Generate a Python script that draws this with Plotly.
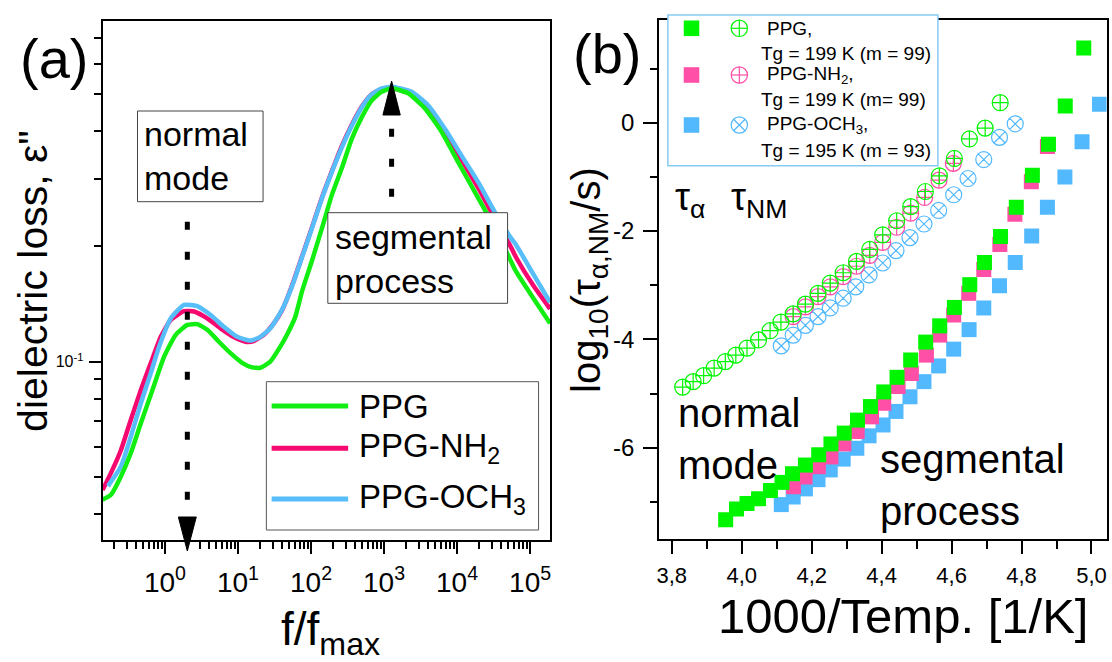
import numpy as np
import plotly.graph_objects as go

W, H = 1112, 662
FONT = "Liberation Sans, Arial, sans-serif"

# ---------------- panel (a): dielectric loss vs. reduced frequency ----------------
logf_ppg = [-0.853, -0.739, -0.603, -0.467, -0.330, -0.171, -0.011, 0.147, 0.307, 0.443,
            0.580, 0.739, 0.898, 1.057, 1.194, 1.307, 1.443, 1.580, 1.671, 1.785,
            1.876, 2.012, 2.149, 2.285, 2.421, 2.558, 2.694, 2.830, 2.960, 3.104,
            3.331, 3.558, 3.786, 4.013, 4.241, 4.468, 4.696, 4.809, 5.040, 5.273]
eps_ppg = [0.0436, 0.0449, 0.0501, 0.0577, 0.0690, 0.0843, 0.1030, 0.1175, 0.1247, 0.1253,
           0.1211, 0.1127, 0.1052, 0.0993, 0.0966, 0.0964, 0.1000, 0.1094, 0.1175, 0.1309,
           0.1524, 0.1832, 0.2228, 0.2723, 0.3199, 0.3819, 0.4345, 0.4808, 0.5058, 0.5176,
           0.5023, 0.4592, 0.3990, 0.3327, 0.2780, 0.2323, 0.1901, 0.1718, 0.1469, 0.1259]

logf_nh2 = [-0.853, -0.739, -0.603, -0.467, -0.330, -0.194, -0.057, 0.079, 0.262, 0.398,
            0.580, 0.761, 0.944, 1.102, 1.216, 1.353, 1.490, 1.603, 1.739, 1.876,
            2.012, 2.149, 2.285, 2.421, 2.558, 2.694, 2.830, 2.960, 3.104, 3.376,
            3.603, 3.831, 4.059, 4.286, 4.513, 4.741, 4.809, 5.040, 5.273]
eps_nh2 = [0.0462, 0.0512, 0.0587, 0.0705, 0.0843, 0.0991, 0.1161, 0.1285, 0.1355, 0.1352,
           0.1297, 0.1222, 0.1159, 0.1127, 0.1132, 0.1175, 0.1259, 0.1361, 0.1578, 0.1879,
           0.2239, 0.2679, 0.3141, 0.3656, 0.4159, 0.4634, 0.4989, 0.5152, 0.5188, 0.5000,
           0.4592, 0.3981, 0.3373, 0.2851, 0.2371, 0.1986, 0.1871, 0.1585, 0.1374]

logf_och3 = [-0.780, -0.603, -0.467, -0.330, -0.194, -0.080, 0.079, 0.262, 0.443, 0.625,
             0.807, 0.989, 1.171, 1.307, 1.443, 1.603, 1.739, 1.876, 2.012, 2.149,
             2.285, 2.421, 2.558, 2.694, 2.830, 2.960, 3.104, 3.376, 3.603, 3.831,
             4.059, 4.286, 4.513, 4.741, 4.809, 5.040, 5.273]
eps_och3 = [0.0473, 0.0532, 0.0637, 0.0778, 0.0933, 0.1094, 0.1297, 0.1406, 0.1396, 0.1324,
            0.1233, 0.1161, 0.1135, 0.1161, 0.1222, 0.1365, 0.1570, 0.1871, 0.2228, 0.2667,
            0.3126, 0.3622, 0.4130, 0.4613, 0.4989, 0.5164, 0.5224, 0.5070, 0.4677, 0.4064,
            0.3459, 0.2951, 0.2466, 0.2099, 0.2018, 0.1698, 0.1429]

# ---------------- panel (b): relaxation map ----------------
# segmental relaxation times (filled squares)
invT_seg_ppg = [3.954, 3.985, 4.015, 4.048, 4.082, 4.115, 4.145, 4.182, 4.220, 4.255,
                4.293, 4.331, 4.368, 4.406, 4.444, 4.483, 4.526, 4.566, 4.608, 4.652,
                4.694, 4.740, 4.785, 4.831, 4.877, 4.925, 4.978]
logtau_seg_ppg = [-7.33, -7.13, -7.03, -6.94, -6.79, -6.64, -6.48, -6.32, -6.13, -5.93,
                  -5.73, -5.49, -5.24, -4.97, -4.70, -4.38, -4.05, -3.75, -3.41, -2.99,
                  -2.58, -2.10, -1.56, -0.97, -0.40, 0.31, 1.38]
invT_seg_nh2 = [4.148, 4.181, 4.219, 4.255, 4.292, 4.330, 4.371, 4.406, 4.447, 4.485,
                4.528, 4.566, 4.606, 4.649, 4.692, 4.738, 4.781, 4.828, 4.874]
logtau_seg_nh2 = [-6.72, -6.54, -6.35, -6.17, -5.93, -5.70, -5.43, -5.18, -4.87, -4.63,
                  -4.29, -3.92, -3.55, -3.15, -2.71, -2.25, -1.69, -1.09, -0.44]
invT_seg_och3 = [4.113, 4.147, 4.182, 4.218, 4.253, 4.290, 4.329, 4.364, 4.404, 4.441,
                 4.481, 4.521, 4.563, 4.606, 4.650, 4.692, 4.737, 4.782, 4.829, 4.874,
                 4.924, 4.973, 5.023]
logtau_seg_och3 = [-7.05, -6.91, -6.76, -6.59, -6.41, -6.21, -6.01, -5.78, -5.58, -5.33,
                   -5.06, -4.78, -4.49, -4.18, -3.82, -3.42, -3.01, -2.58, -2.09, -1.56,
                   -1.00, -0.35, 0.34]
# normal mode relaxation times (open circles)
invT_nm_ppg = [3.831, 3.861, 3.891, 3.921, 3.953, 3.983, 4.015, 4.048, 4.081, 4.112,
               4.147, 4.182, 4.218, 4.253, 4.290, 4.328, 4.366, 4.403, 4.443, 4.483,
               4.525, 4.565, 4.608, 4.651, 4.696, 4.739]
logtau_nm_ppg = [-4.88, -4.78, -4.67, -4.53, -4.41, -4.29, -4.16, -4.01, -3.84, -3.68,
                 -3.53, -3.35, -3.15, -2.96, -2.77, -2.56, -2.34, -2.07, -1.81, -1.55,
                 -1.27, -0.98, -0.66, -0.30, -0.10, 0.37]
invT_nm_nh2 = [4.147, 4.182, 4.218, 4.253, 4.290, 4.328, 4.366, 4.403, 4.443, 4.483,
               4.523, 4.564, 4.605]
logtau_nm_nh2 = [-3.58, -3.40, -3.21, -3.03, -2.84, -2.65, -2.45, -2.21, -1.93, -1.67,
                 -1.38, -1.06, -0.75]
invT_nm_och3 = [4.113, 4.147, 4.182, 4.218, 4.253, 4.290, 4.326, 4.364, 4.403, 4.441,
                4.481, 4.521, 4.563, 4.606, 4.647, 4.692, 4.737, 4.782]
logtau_nm_och3 = [-4.12, -3.92, -3.74, -3.58, -3.42, -3.24, -3.03, -2.81, -2.59, -2.36,
                  -2.12, -1.87, -1.62, -1.33, -1.03, -0.68, -0.27, -0.02]

# tick labels
xa_tickvals = [1, 10, 100, 1000, 10000, 100000]
xa_ticktext = ["10<sup>0</sup>", "10<sup>1</sup>", "10<sup>2</sup>",
               "10<sup>3</sup>", "10<sup>4</sup>", "10<sup>5</sup>"]
ya_tickvals = [0.1]
ya_ticktext = ["10<sup>-1</sup>"]
xb_tickvals = [3.8, 4.0, 4.2, 4.4, 4.6, 4.8, 5.0]
xb_ticktext = ["3,8", "4,0", "4,2", "4,4", "4,6", "4,8", "5,0"]
yb_tickvals = [-6, -4, -2, 0]
yb_ticktext = ["-6", "-4", "-2", "0"]

# colours
C_LINE = {"PPG": "#12EE12", "NH2": "#F5086F", "OCH3": "#58BEFA"}
C_MARK = {"PPG": "#00F500", "NH2": "#FF4FA7", "OCH3": "#52B9FF"}

fig = go.Figure()

# panel (a) curves
for key, lf, ep in [("NH2", logf_nh2, eps_nh2), ("OCH3", logf_och3, eps_och3),
                    ("PPG", logf_ppg, eps_ppg)]:
    fig.add_trace(go.Scatter(
        x=10 ** np.array(lf), y=ep, mode="lines", xaxis="x", yaxis="y",
        line=dict(color=C_LINE[key], width=4.5, shape="spline", smoothing=0.5),
        showlegend=False, hoverinfo="skip"))

# panel (b) markers
for key, xs, ys in [("OCH3", invT_seg_och3, logtau_seg_och3),
                    ("NH2", invT_seg_nh2, logtau_seg_nh2),
                    ("PPG", invT_seg_ppg, logtau_seg_ppg)]:
    fig.add_trace(go.Scatter(
        x=xs, y=ys, mode="markers", xaxis="x2", yaxis="y2",
        marker=dict(symbol="square", size=15, color=C_MARK[key], line=dict(width=0)),
        showlegend=False, hoverinfo="skip"))

for key, xs, ys, sym in [("OCH3", invT_nm_och3, logtau_nm_och3, "circle-x-open"),
                         ("NH2", invT_nm_nh2, logtau_nm_nh2, "circle-cross-open"),
                         ("PPG", invT_nm_ppg, logtau_nm_ppg, "circle-cross-open")]:
    fig.add_trace(go.Scatter(
        x=xs, y=ys, mode="markers", xaxis="x2", yaxis="y2",
        marker=dict(symbol=sym, size=16, color=C_MARK[key], line=dict(width=1.2, color=C_MARK[key])),
        showlegend=False, hoverinfo="skip"))


def px(x):
    return x / W


def py(y):
    return 1 - y / H


axis_common = dict(showline=True, linecolor="black", linewidth=2, mirror=True,
                   ticks="outside", tickwidth=2, tickcolor="black", showgrid=False,
                   zeroline=False, color="black")

minor_a_x = [d * 10.0 ** k for k in range(-1, 6) for d in range(2, 10)
             if -0.853 < np.log10(d * 10.0 ** k) < 5.273]
minor_a_y = [0.04, 0.05, 0.06, 0.07, 0.08, 0.09, 0.2, 0.3, 0.4, 0.5, 0.6, 0.7]

fig.update_layout(
    width=W, height=H, margin=dict(l=0, r=0, t=0, b=0),
    paper_bgcolor="white", plot_bgcolor="white",
    font=dict(family=FONT, color="black"),
    showlegend=False,
    xaxis=dict(axis_common, type="log", domain=[px(100), px(549)], range=[-0.853, 5.273],
               anchor="y", tickvals=xa_tickvals, ticktext=xa_ticktext, ticklen=12,
               tickfont=dict(size=28, family=FONT), ticklabelstandoff=4,
               minor=dict(tickvals=minor_a_x, ticks="outside", ticklen=7, tickwidth=2,
                          tickcolor="black")),
    yaxis=dict(axis_common, type="log", domain=[py(540), py(21)],
               range=[np.log10(0.0342), np.log10(0.776)],
               anchor="x", tickvals=ya_tickvals, ticktext=ya_ticktext, ticklen=12,
               tickfont=dict(size=16, family=FONT), ticklabelstandoff=2,
               minor=dict(tickvals=minor_a_y, ticks="outside", ticklen=7, tickwidth=2,
                          tickcolor="black")),
    xaxis2=dict(axis_common, domain=[px(658.6), px(1107.5)], range=[3.764, 5.043],
                anchor="y2", tickvals=xb_tickvals, ticktext=xb_ticktext, ticklen=13,
                tickfont=dict(size=22, family=FONT), ticklabelstandoff=3,
                minor=dict(tickvals=[3.9, 4.1, 4.3, 4.5, 4.7, 4.9], ticks="outside",
                           ticklen=8, tickwidth=2, tickcolor="black")),
    yaxis2=dict(axis_common, domain=[py(539), py(20)], range=[-7.685, 1.896],
                anchor="x2", tickvals=yb_tickvals, ticktext=yb_ticktext, ticklen=14,
                tickfont=dict(size=24, family=FONT), ticklabelstandoff=4,
                minor=dict(tickvals=[-7, -5, -3, -1, 1], ticks="outside", ticklen=7,
                           tickwidth=2, tickcolor="black")),
)

shapes = []
annots = []


def rect(x0, y0, x1, y1, line_color="#444444", lw=1, fill="white"):
    shapes.append(dict(type="rect", xref="paper", yref="paper", layer="above",
                       x0=px(x0), x1=px(x1), y0=py(y0), y1=py(y1),
                       line=dict(color=line_color, width=lw), fillcolor=fill))


def seg(x0, y0, x1, y1, color, width, dash="solid"):
    shapes.append(dict(type="line", xref="paper", yref="paper", layer="above",
                       x0=px(x0), x1=px(x1), y0=py(y0), y1=py(y1),
                       line=dict(color=color, width=width, dash=dash)))


def text(x, y, s, size, xanchor="left", yanchor="middle", angle=0, align="left"):
    annots.append(dict(xref="paper", yref="paper", x=px(x), y=py(y), text=s,
                       showarrow=False, xanchor=xanchor, yanchor=yanchor,
                       textangle=angle, align=align,
                       font=dict(size=size, family=FONT, color="black")))


def tri(path_pts):
    d = "M " + " L ".join(f"{px(a):.5f},{py(b):.5f}" for a, b in path_pts) + " Z"
    shapes.append(dict(type="path", xref="paper", yref="paper", layer="above", path=d,
                       fillcolor="black", line=dict(color="black", width=1)))


# ---- panel (a) annotations ----
rect(135, 111, 261, 201.7)
text(139, 156, "normal<br>mode", 34)
rect(326, 212.7, 506.4, 303.3)
text(331, 258.5, "segmental<br>process", 34)

# dotted arrows marking the two peaks
seg(185, 221.7, 185, 517, "black", 5, dash="8px,22px")
tri([(176, 517), (194, 517), (185, 551)])
seg(390, 196.7, 390, 116, "black", 5, dash="8px,22px")
tri([(381.3, 115), (398.7, 115), (390, 81)])

# legend of panel (a)
rect(264.3, 381.7, 537.5, 530, line_color="#555555")
for yy, key, lab in [(406, "PPG", "PPG"), (448.3, "NH2", "PPG-NH<sub>2</sub>"),
                     (499, "OCH3", "PPG-OCH<sub>3</sub>")]:
    seg(269.6, yy, 346.4, yy, C_LINE[key], 5)
    text(355, yy, lab, 33)

text(51, 58, "(a)", 56, xanchor="center")
text(30, 281, "dielectric loss, ε\"", 41, xanchor="center", angle=-90)
text(329, 632, "f/f<sub>max</sub>", 46, xanchor="center")

# ---- panel (b) annotations ----
text(606.5, 53, "(b)", 56, xanchor="center")
text(588, 280, "log<sub>10</sub>(τ<sub>α,NM</sub>/s)", 40, xanchor="center", angle=-90)
text(903, 616, "1000/Temp. [1/K]", 49, xanchor="center")
text(672, 200, "τ<sub>α</sub>", 38)
text(729, 200, "τ<sub>NM</sub>", 38)
text(675, 439, "normal<br>mode", 40)
text(877.7, 484.5, "segmental<br>process", 40)

# legend of panel (b), drawn by hand: filled square + open circle per sample
rect(667.3, 15, 938.3, 165.7, line_color="#86CBF2", lw=1.5)
leg_rows = [(28.3, "PPG", "PPG,", "Tg = 199 K (m = 99)", "plus"),
            (75, "NH2", "PPG-NH<sub>2</sub>,", "Tg = 199 K (m= 99)", "plus"),
            (125, "OCH3", "PPG-OCH<sub>3</sub>,", "Tg = 195 K (m = 93)", "x")]
for yy, key, lab1, lab2, kind in leg_rows:
    c = C_MARK[key]
    rect(683.2, yy - 7.8, 698.8, yy + 7.8, line_color=c, lw=0, fill=c)
    r = 8.2
    cx = 739
    shapes.append(dict(type="circle", xref="paper", yref="paper", layer="above",
                       x0=px(cx - r), x1=px(cx + r), y0=py(yy + r), y1=py(yy - r),
                       line=dict(color=c, width=1.2), fillcolor="rgba(0,0,0,0)"))
    if kind == "plus":
        seg(cx - r, yy, cx + r, yy, c, 1.2)
        seg(cx, yy - r, cx, yy + r, c, 1.2)
    else:
        k = r * 0.707
        seg(cx - k, yy - k, cx + k, yy + k, c, 1.2)
        seg(cx - k, yy + k, cx + k, yy - k, c, 1.2)
    text(765, yy, lab1, 19)
    text(759, yy + 25, lab2, 19)

fig.update_layout(shapes=shapes, annotations=annots)
fig.write_html("out.html")
